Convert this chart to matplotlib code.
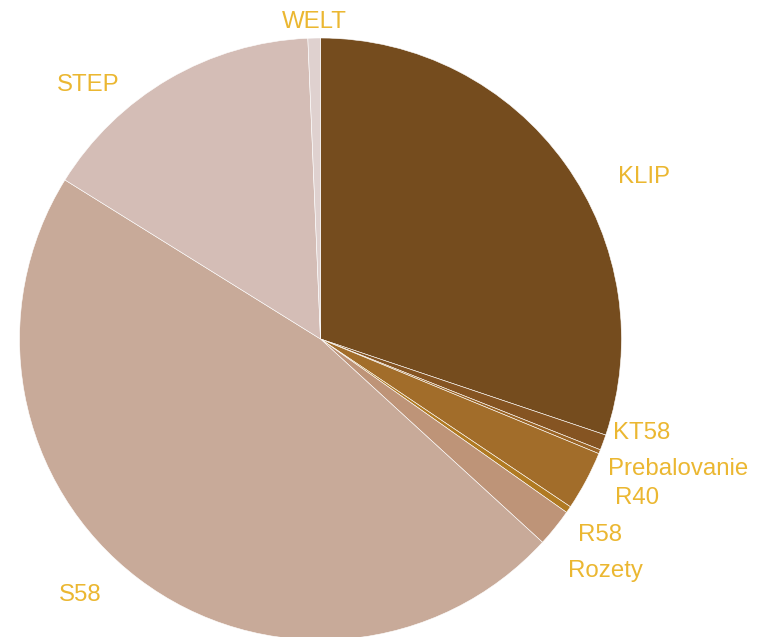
import matplotlib
matplotlib.use('Agg')
import matplotlib.pyplot as plt

# podiely (odčítané z grafu, v %)
labels = ['KLIP', 'KT58', 'Prebalovanie', 'R40', 'R58', 'Rozety', 'S58', 'STEP', 'WELT']
values = [30.17, 0.83, 0.22, 3.19, 0.36, 2.03, 47.06, 15.47, 0.67]
colors = ['#754C1E', '#855422', '#9A6426', '#A26D2A', '#B07A22',
          '#BE9478', '#C8AA99', '#D4BDB6', '#DFD1CF']

# umiestnenie popisov (v jednotkách polomeru)
label_pos = [(1.075, 0.537), (1.068, -0.313), (1.188, -0.432), (1.052, -0.529),
             (0.929, -0.652), (0.948, -0.771), (-0.799, -0.851), (-0.771, 0.843),
             (-0.022, 1.053)]

W, H = 762, 637
cx, cy, r = 320.5, 339, 301
fig = plt.figure(figsize=(W / 100, H / 100), dpi=100)
pad = 1.02
side = 2 * r * pad
ax = fig.add_axes([(cx - side / 2) / W, (H - cy - side / 2) / H, side / W, side / H])

wedges, texts = ax.pie(values, labels=labels, colors=colors, startangle=90,
                       counterclock=False,
                       wedgeprops=dict(edgecolor='white', linewidth=0.4),
                       textprops=dict(color='#EBB731', fontsize=17.3,
                                      family=['Liberation Sans', 'DejaVu Sans']))
for t, (x, y) in zip(texts, label_pos):
    t.set_position((x, y))
    t.set_ha('center')
    t.set_va('center')

ax.set_xlim(-pad, pad)
ax.set_ylim(-pad, pad)
ax.set_aspect('equal')
ax.axis('off')

fig.savefig('out.png', dpi=100)
